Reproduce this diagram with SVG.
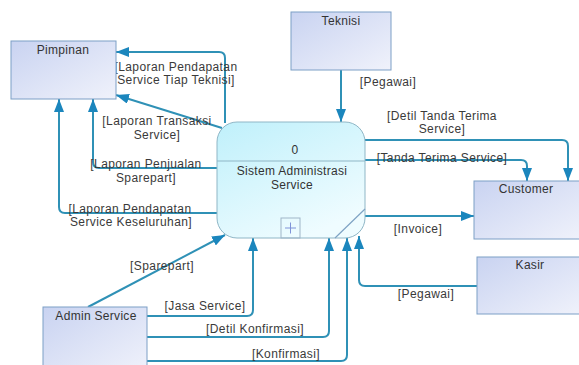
<svg xmlns="http://www.w3.org/2000/svg" width="579" height="365" viewBox="0 0 579 365">
<defs>
<linearGradient id="gEnt" x1="0" y1="0" x2="1" y2="1">
<stop offset="0" stop-color="#c9d3f1"/>
<stop offset="1" stop-color="#f0f2fb"/>
</linearGradient>
<linearGradient id="gProc" x1="0" y1="0" x2="0.6" y2="1">
<stop offset="0" stop-color="#bff0fb"/>
<stop offset="1" stop-color="#effcff"/>
</linearGradient>
<marker id="arr" markerUnits="userSpaceOnUse" markerWidth="14" markerHeight="10" refX="13" refY="5" orient="auto">
<path d="M0,0 L13,5 L0,10 Z" fill="#1b86bd"/>
</marker>
<style>
.ent{fill:url(#gEnt);stroke:#7d9fc6;stroke-width:1}
.proc{fill:url(#gProc);stroke:#8fb6c6;stroke-width:1}
.nl{font-family:"Liberation Sans",Arial,sans-serif;font-size:12px;fill:#333;text-anchor:middle;letter-spacing:0.3px}
.lb{font-family:"Liberation Sans",Arial,sans-serif;font-size:12px;fill:#3a3a3a;text-anchor:middle;letter-spacing:0.4px}
.c{fill:none;stroke:#2f91b6;stroke-width:2;marker-end:url(#arr)}
</style>
</defs>
<rect width="579" height="365" fill="#ffffff"/>
<g id="connectors">
<path class="c" d="M225,123 V58 Q225,52 219,52 H116"/>
<path class="c" d="M222,128 L116,95"/>
<path class="c" d="M217,168 H99 Q93,168 93,162 V99"/>
<path class="c" d="M217,213 H65 Q59,213 59,207 V99"/>
<path class="c" d="M341,70 V122"/>
<path class="c" d="M365,140 H562 Q568,140 568,146 V181"/>
<path class="c" d="M365,160 H521 Q527,160 527,166 V181"/>
<path class="c" d="M365,216 H474"/>
<path class="c" d="M477,286 H365 Q359,286 359,280 V236"/>
<path class="c" d="M88,307 L225,235"/>
<path class="c" d="M147,316 H247 Q253,316 253,310 V238"/>
<path class="c" d="M147,337 H323 Q329,337 329,331 V238"/>
<path class="c" d="M147,361 H341 Q347,361 347,355 V238"/>
<text class="lb" x="176" y="71">[Laporan Pendapatan</text>
<text class="lb" x="176" y="84">Service Tiap Teknisi]</text>
<text class="lb" x="157" y="125">[Laporan Transaksi</text>
<text class="lb" x="157" y="139">Service]</text>
<text class="lb" x="146" y="168">[Laporan Penjualan</text>
<text class="lb" x="146" y="182">Sparepart]</text>
<text class="lb" x="130" y="213">[Laporan Pendapatan</text>
<text class="lb" x="131" y="226">Service Keseluruhan]</text>
<text class="lb" x="388" y="86">[Pegawai]</text>
<text class="lb" x="442" y="120">[Detil Tanda Terima</text>
<text class="lb" x="442" y="133">Service]</text>
<text class="lb" x="442" y="162">[Tanda Terima Service]</text>
<text class="lb" x="418" y="233">[Invoice]</text>
<text class="lb" x="426" y="298">[Pegawai]</text>
<text class="lb" x="162" y="270">[Sparepart]</text>
<text class="lb" x="205" y="310">[Jasa Service]</text>
<text class="lb" x="255" y="333">[Detil Konfirmasi]</text>
<text class="lb" x="286" y="358">[Konfirmasi]</text>
</g>
<g id="pimpinan">
<rect class="ent" x="11" y="41" width="105" height="58"/>
<text class="nl" x="63" y="54">Pimpinan</text>
</g>
<g id="teknisi">
<rect class="ent" x="291" y="12" width="100" height="58"/>
<text class="nl" x="341" y="25">Teknisi</text>
</g>
<g id="customer">
<rect class="ent" x="474" y="181" width="110" height="58"/>
<text class="nl" x="526" y="193">Customer</text>
</g>
<g id="kasir">
<rect class="ent" x="477" y="257" width="107" height="57"/>
<text class="nl" x="530" y="269">Kasir</text>
</g>
<g id="admin-service">
<rect class="ent" x="43" y="307" width="104" height="65"/>
<text class="nl" x="96" y="320">Admin Service</text>
</g>
<g id="process-0">
<rect class="proc" x="217" y="122" width="148" height="116" rx="20" ry="20"/>
<line x1="217" y1="161" x2="365" y2="161" stroke="#8fb6c6" stroke-width="1"/>
<line x1="335" y1="238" x2="365" y2="209" stroke="#7fa3c4" stroke-width="1.2"/>
<rect x="281" y="218" width="19" height="20" fill="none" stroke="#9fb5c8" stroke-width="1"/>
<path d="M285,228 H296 M290.5,222.5 V233.5" stroke="#7f93d8" stroke-width="1"/>
<text class="nl" x="295" y="154">0</text>
<text class="nl" x="292" y="175">Sistem Administrasi</text>
<text class="nl" x="292" y="189">Service</text>
</g>
</svg>
